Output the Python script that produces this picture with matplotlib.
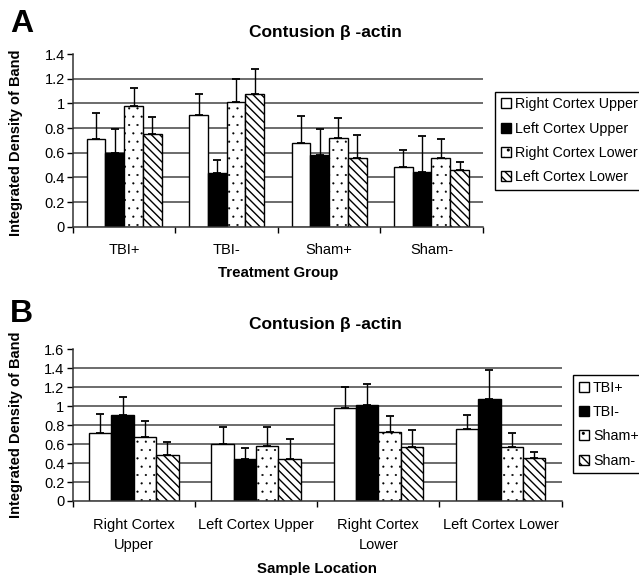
import numpy as np
import matplotlib as mpl
import matplotlib.pyplot as plt

plt.rcParams['font.family'] = ['Liberation Sans', 'DejaVu Sans']
plt.rcParams['hatch.linewidth'] = 1.0

# Panel A: groups = treatment, series = sample location
groups_a = ['TBI+', 'TBI-', 'Sham+', 'Sham-']
series_a = ['Right Cortex Upper', 'Left Cortex Upper', 'Right Cortex Lower', 'Left Cortex Lower']
vals_a = [
    [0.71, 0.905, 0.68, 0.486],   # Right Cortex Upper
    [0.595, 0.434, 0.578, 0.44],  # Left Cortex Upper
    [0.98, 1.007, 0.72, 0.559],   # Right Cortex Lower
    [0.755, 1.072, 0.559, 0.459], # Left Cortex Lower
]
err_a = [
    [0.21, 0.174, 0.217, 0.138],
    [0.198, 0.109, 0.215, 0.299],
    [0.147, 0.193, 0.165, 0.15],
    [0.133, 0.204, 0.188, 0.062],
]

# Panel B: groups = sample location, series = treatment
groups_b = ['Right Cortex\nUpper', 'Left Cortex Upper', 'Right Cortex\nLower', 'Left Cortex Lower']
series_b = ['TBI+', 'TBI-', 'Sham+', 'Sham-']
vals_b = [
    [0.712, 0.596, 0.977, 0.758],  # TBI+
    [0.906, 0.448, 1.016, 1.079],  # TBI-
    [0.677, 0.582, 0.73, 0.568],   # Sham+
    [0.483, 0.448, 0.568, 0.458],  # Sham-
]
err_b = [
    [0.208, 0.18, 0.222, 0.148],
    [0.194, 0.109, 0.222, 0.3],
    [0.162, 0.194, 0.162, 0.148],
    [0.137, 0.208, 0.183, 0.064],
]

# fill, hatch, hatch colour, hatch line width
styles = [
    ('white', None, 'black', 1.0),
    ('black', None, 'black', 1.0),
    ('white', '..', '#666666', 0.3),
    ('white', '\\\\\\\\', 'black', 1.0),
]

fig = plt.figure(figsize=(6.39, 5.75), dpi=100)


def draw_panel(rect, groups, series, vals, errs, ymax, xlabel, label_y, legend_pos, letter_y, title_y, ylab_y):
    ax = fig.add_axes(rect)
    x = np.arange(len(groups))
    w = 0.183
    ax.set_axisbelow(True)
    for t in np.arange(0.2, ymax - 0.01, 0.2):
        ax.axhline(t, color='#444444', lw=1.1, zorder=0)
    handles = []
    for j, name in enumerate(series):
        pos = x + (j - 1.5) * w
        fc, hatch, hc, hlw = styles[j]
        # edgecolor comes from rc so the hatch can keep its own colour
        with mpl.rc_context({'patch.force_edgecolor': True, 'patch.edgecolor': 'black',
                             'hatch.color': hc, 'hatch.linewidth': hlw}):
            b = ax.bar(pos, vals[j], w, facecolor=fc, hatch=hatch, linewidth=1.0,
                       label=name, zorder=2)
        handles.append(b)
        ax.errorbar(pos, vals[j], yerr=[np.zeros(len(groups)), errs[j]], fmt='none',
                    ecolor='black', elinewidth=1.0, capsize=2.7, capthick=1.3, zorder=3)
    ax.set_xlim(-0.5, len(groups) - 0.5)
    ax.set_ylim(0, ymax)
    ticks = np.arange(0, ymax + 0.01, 0.2)
    ax.set_yticks(ticks)
    ax.set_yticklabels(['0' if abs(v) < 1e-9 else ('1' if abs(v - 1) < 1e-9 else f'{v:.1f}')
                        for v in ticks], fontsize=10.5)
    ax.set_xticks(x)
    ax.set_xticklabels(groups, fontsize=10.5, linespacing=1.6)
    ax.set_xticks(np.arange(-0.5, len(groups)), minor=True)
    ax.tick_params(axis='x', which='major', length=0, pad=12)
    ax.tick_params(axis='x', which='minor', length=4, width=1, direction='out')
    ax.tick_params(axis='y', length=4, width=1, pad=2)
    for s in ['top', 'right']:
        ax.spines[s].set_visible(False)
    for s in ['left', 'bottom']:
        ax.spines[s].set_linewidth(1.1)
        ax.spines[s].set_color('#333333')
    ax.set_xlabel(xlabel, fontsize=10.8, fontweight='bold', va='top')
    ax.xaxis.set_label_coords(0.5, label_y)
    fig.legend(handles, series, loc='upper left', bbox_to_anchor=legend_pos, fontsize=10.3,
               frameon=True, fancybox=False, edgecolor='black', framealpha=1,
               handlelength=0.7, handleheight=0.7, handletextpad=0.3,
               labelspacing=0.72, borderpad=0.4, borderaxespad=0)
    fig.text(10 / 639, letter_y, letter, fontsize=23, fontweight='bold', va='center', ha='left')
    fig.text(325 / 639, title_y, 'Contusion β -actin', fontsize=12.5, fontweight='bold', ha='center', va='center')
    fig.text(16 / 639, ylab_y, 'Integrated Density of Band', fontsize=10.5, fontweight='bold',
             rotation=90, ha='center', va='center')
    return ax


letter = 'A'
draw_panel([73 / 639, 348.3 / 575, 409.7 / 639, 172.7 / 575], groups_a, series_a, vals_a, err_a,
           1.4, 'Treatment Group', -0.225, (495 / 639, 1 - 91.7 / 575),
           1 - 24 / 575, 1 - 33 / 575, 1 - 142.5 / 575)
letter = 'B'
draw_panel([72.7 / 639, 74 / 575, 489 / 639, 151.7 / 575], groups_b, series_b, vals_b, err_b,
           1.6, 'Sample Location', -0.405, (573 / 639, 1 - 375 / 575),
           1 - 314 / 575, 1 - 325 / 575, 1 - 425 / 575)

fig.savefig('out.png', dpi=100)
